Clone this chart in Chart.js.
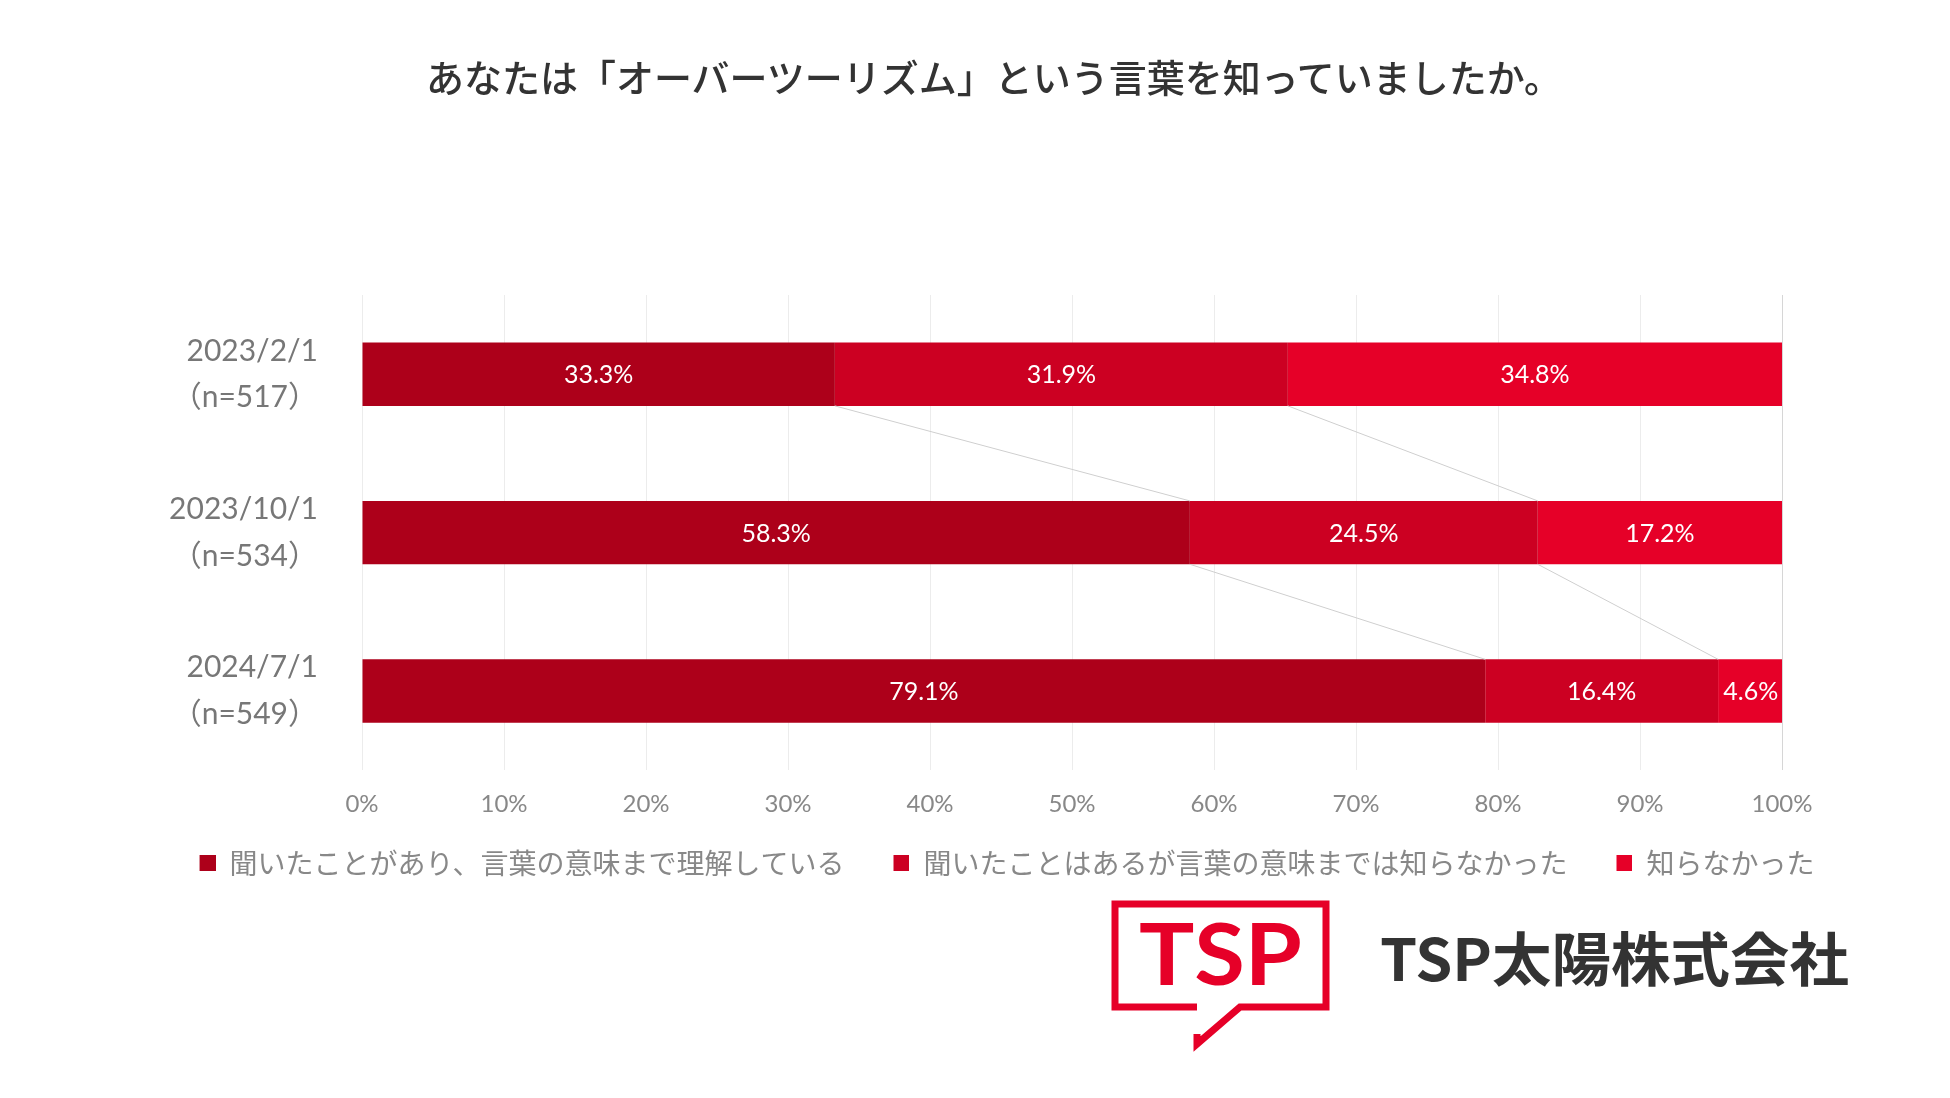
<!DOCTYPE html>
<html lang="ja">
<head>
<meta charset="utf-8">
<title>オーバーツーリズム認知度</title>
<script src="https://cdn.jsdelivr.net/npm/chart.js@4.4.1/dist/chart.umd.min.js"></script>
<style>
  body { margin: 0; background: #fff; }
  #wrap { position: relative; width: 1950px; height: 1098px; overflow: hidden; }
  #chart { position: absolute; left: 0; top: 0; }
  #title {
    position: absolute; left: 19px; top: 56px; width: 1950px; height: 40px;
    line-height: 40px; text-align: center;
    font-family: "Noto Sans CJK JP", sans-serif; font-size: 38px; font-weight: 500;
    color: #333;
  }
  #logo { position: absolute; left: 0; top: 0; pointer-events: none; }
</style>
</head>
<body>
<div id="wrap">
  <canvas id="chart" width="1950" height="1098"></canvas>
  <div id="title">あなたは「オーバーツーリズム」という言葉を知っていましたか。</div>
  <svg id="logo" width="1950" height="1098">
    <path d="M1197,1007 L1115,1007 L1115,904 L1326,904 L1326,1007 L1240,1007 L1197,1044 L1197,1034"
          fill="none" stroke="#E60028" stroke-width="7" stroke-linejoin="miter"/>
    <text x="1139" y="985" font-family="Lato, sans-serif" font-weight="bold" font-size="86"
          fill="#E60028" textLength="163" lengthAdjust="spacingAndGlyphs">TSP</text>
    <text x="1380" y="981" font-family="'Noto Sans CJK JP', sans-serif" font-weight="bold" font-size="58"
          fill="#333" textLength="469" lengthAdjust="spacingAndGlyphs">TSP太陽株式会社</text>
  </svg>
</div>
<script>
// survey dates and sample sizes
const categories = [
    ['2023/2/1', '（n=517）'],
    ['2023/10/1', '（n=534）'],
    ['2024/7/1', '（n=549）']
];

const seriesNames = [
    '聞いたことがあり、言葉の意味まで理解している',
    '聞いたことはあるが言葉の意味までは知らなかった',
    '知らなかった'
];

const understood = [33.3, 58.3, 79.1];
const heardOnly = [31.9, 24.5, 16.4];
const neverHeard = [34.8, 17.2, 4.6];

const seriesColors = ['#AD001A', '#CC0022', '#E60028'];

const xTicks = [0, 10, 20, 30, 40, 50, 60, 70, 80, 90, 100];

const latin = 'Lato, "Noto Sans CJK JP", sans-serif';

// legend marker: small square at the right end of a wider transparent slot,
// so the space before each item is wider than the space before its text
const markerSlot = 55, markerSize = 16;
const markers = seriesColors.map(col => {
    const c = document.createElement('canvas');
    c.width = markerSlot;
    c.height = markerSize;
    const g = c.getContext('2d');
    g.fillStyle = col;
    g.fillRect(markerSlot - markerSize, 0, markerSize, markerSize);
    return c;
});

// white value labels in the middle of each segment
const segmentLabels = {
    id: 'segmentLabels',
    afterDatasetsDraw(chart) {
        const ctx = chart.ctx;
        ctx.save();
        ctx.fillStyle = '#fff';
        ctx.font = '25px ' + latin;
        ctx.textAlign = 'center';
        ctx.textBaseline = 'middle';
        chart.data.datasets.forEach((ds, d) => {
            const meta = chart.getDatasetMeta(d);
            meta.data.forEach((bar, i) => {
                const p = bar.getProps(['x', 'y', 'base'], true);
                ctx.fillText(ds.data[i].toFixed(1) + '%', (p.x + p.base) / 2, p.y + 1);
            });
        });
        ctx.restore();
    }
};

// thin grey lines joining segment ends of neighbouring bars
const connectors = {
    id: 'connectors',
    afterDatasetsDraw(chart) {
        const ctx = chart.ctx;
        ctx.save();
        ctx.strokeStyle = '#cfcfcf';
        ctx.lineWidth = 1;
        const last = chart.data.datasets.length - 1;
        for (let d = 0; d < last; d++) {
            const bars = chart.getDatasetMeta(d).data;
            for (let i = 0; i < bars.length - 1; i++) {
                const a = bars[i].getProps(['x', 'y', 'height'], true);
                const b = bars[i + 1].getProps(['x', 'y', 'height'], true);
                ctx.beginPath();
                ctx.moveTo(a.x, a.y + a.height / 2);
                ctx.lineTo(b.x, b.y - b.height / 2);
                ctx.stroke();
            }
        }
        ctx.restore();
    }
};

const ctx = document.getElementById('chart').getContext('2d');
const chart = new Chart(ctx, {
    type: 'bar',
    data: {
        labels: categories,
        datasets: [understood, heardOnly, neverHeard].map((values, k) => ({
            label: seriesNames[k],
            data: values,
            backgroundColor: seriesColors[k],
            borderWidth: 0,
            barPercentage: 0.4,
            categoryPercentage: 1
        }))
    },
    options: {
        indexAxis: 'y',
        responsive: false,
        animation: false,
        devicePixelRatio: 1,
        layout: {
            padding: { left: 65, right: 40, top: 295, bottom: 211 }
        },
        scales: {
            x: {
                stacked: true,
                min: 0,
                max: 100,
                afterBuildTicks(scale) {
                    scale.ticks = xTicks.map(v => ({ value: v }));
                },
                grid: {
                    color: c => (c.tick && c.tick.value === 100) ? '#d6d6d6' : '#ececec',
                    drawTicks: false
                },
                border: { display: false },
                ticks: {
                    padding: 20,
                    color: '#888',
                    font: { family: latin, size: 24 },
                    callback: v => v + '%'
                }
            },
            y: {
                stacked: true,
                afterFit(scale) {
                    scale.width = 297;
                },
                grid: { display: false, drawTicks: false },
                border: { display: false },
                ticks: {
                    padding: 44,
                    color: '#777',
                    font: { family: latin, size: 30, lineHeight: 1.55 }
                }
            },
            // empty right-hand margin so the legend can use the full width
            yRight: {
                type: 'category',
                position: 'right',
                afterFit(scale) {
                    scale.width = 128;
                },
                grid: { display: false, drawTicks: false },
                border: { display: false },
                ticks: { display: false }
            }
        },
        plugins: {
            legend: {
                position: 'bottom',
                labels: {
                    usePointStyle: true,
                    pointStyleWidth: markerSlot,
                    boxHeight: markerSize,
                    padding: 10,
                    color: '#888',
                    font: { family: '"Noto Sans CJK JP", sans-serif', size: 28 },
                    generateLabels(chart) {
                        const items = Chart.defaults.plugins.legend.labels.generateLabels(chart);
                        items.forEach((item, i) => { item.pointStyle = markers[i]; });
                        return items;
                    }
                }
            },
            tooltip: { enabled: false }
        }
    },
    plugins: [connectors, segmentLabels]
});
</script>
</body>
</html>
